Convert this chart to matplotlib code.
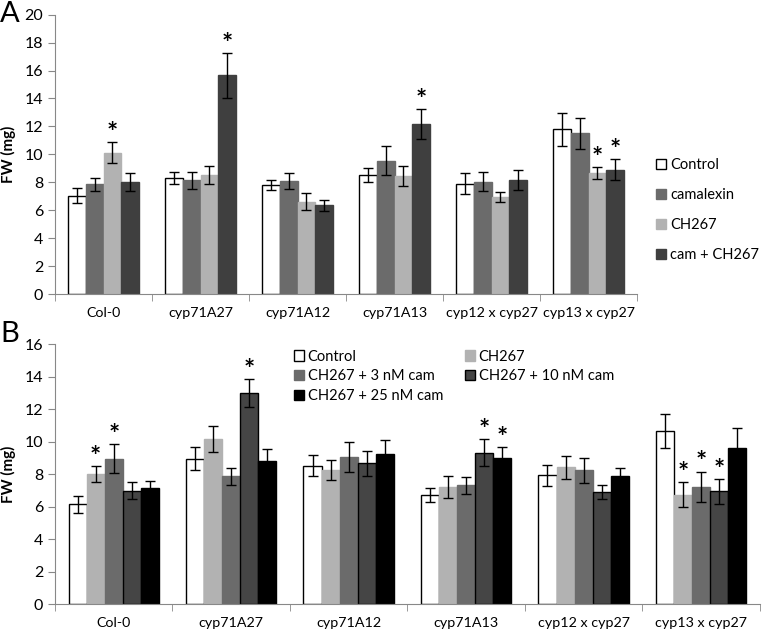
import numpy as np
import matplotlib
matplotlib.use("Agg")
import matplotlib.pyplot as plt

plt.rcParams['font.family'] = ['Lato', 'DejaVu Sans']

genotypes = ["Col-0", "cyp71A27", "cyp71A12", "cyp71A13", "cyp12 x cyp27", "cyp13 x cyp27"]

# panel A
a_names = ["Control", "camalexin", "CH267", "cam + CH267"]
a_vals = [
    [7.05, 8.3, 7.8, 8.5, 7.88, 11.8],
    [7.85, 8.15, 8.1, 9.55, 8.04, 11.5],
    [10.1, 8.55, 6.6, 8.47, 6.95, 8.66],
    [8.0, 15.65, 6.35, 12.15, 8.14, 8.9],
]
a_errs = [
    [0.55, 0.42, 0.35, 0.5, 0.75, 1.19],
    [0.45, 0.6, 0.55, 1.02, 0.7, 1.1],
    [0.75, 0.65, 0.6, 0.73, 0.38, 0.42],
    [0.65, 1.62, 0.4, 1.08, 0.72, 0.77],
]
a_sig = [
    [0, 0, 0, 0, 0, 0],
    [0, 0, 0, 0, 0, 0],
    [1, 0, 0, 0, 0, 1],
    [0, 1, 0, 1, 0, 1],
]

# panel B
b_names = ["Control", "CH267", "CH267 + 3 nM cam", "CH267 + 10 nM cam", "CH267 + 25 nM cam"]
b_vals = [
    [6.13, 8.96, 8.51, 6.71, 7.94, 10.65],
    [8.0, 10.17, 8.25, 7.22, 8.43, 6.73],
    [8.96, 7.88, 9.07, 7.32, 8.23, 7.22],
    [6.97, 13.0, 8.66, 9.33, 6.91, 6.93],
    [7.14, 8.82, 9.21, 8.98, 7.9, 9.62],
]
b_errs = [
    [0.53, 0.72, 0.65, 0.43, 0.65, 1.05],
    [0.48, 0.78, 0.64, 0.68, 0.71, 0.78],
    [0.88, 0.52, 0.91, 0.53, 0.79, 0.93],
    [0.52, 0.84, 0.77, 0.83, 0.42, 0.76],
    [0.45, 0.72, 0.89, 0.68, 0.48, 1.2],
]
b_sig = [
    [0, 0, 0, 0, 0, 0],
    [1, 0, 0, 0, 0, 1],
    [1, 0, 0, 0, 0, 1],
    [0, 1, 0, 1, 0, 1],
    [0, 0, 0, 1, 0, 0],
]

a_colors = ["white", "#6b6b6b", "#b2b2b2", "#3f3f3f"]
a_edges = ["black", "#6b6b6b", "#b2b2b2", "#3f3f3f"]
b_colors = ["white", "#b2b2b2", "#6b6b6b", "#454545", "black"]
b_edges = ["black", "#b2b2b2", "#6b6b6b", "black", "black"]


def panel(ax, vals, errs, sig, names, colors, edges, width, ymax, step):
    x = np.arange(len(genotypes))
    n = len(vals)
    handles = []
    for i in range(n):
        pos = x + (i - (n - 1) / 2) * width
        h = ax.bar(pos, vals[i], width, yerr=errs[i], color=colors[i],
                   edgecolor=edges[i], linewidth=1.0, label=names[i],
                   error_kw=dict(ecolor="black", elinewidth=1.0, capsize=3.5, capthick=1.0))
        handles.append(h)
        for j in range(len(genotypes)):
            if sig[i][j]:
                ax.annotate("*", (pos[j], vals[i][j] + errs[i][j]), xytext=(0, -2),
                            textcoords="offset points", ha="center", va="bottom",
                            fontsize=19, fontweight="bold")
    ax.set_xlim(-0.5, len(genotypes) - 0.5)
    ax.set_ylim(0, ymax)
    ax.set_yticks(np.arange(0, ymax + 0.1, step))
    ax.set_xticks(x)
    ax.set_xticklabels(genotypes)
    ax.set_xticks(np.arange(-0.5, len(genotypes)), minor=True)
    ax.tick_params(axis="x", which="major", length=0, pad=9, labelsize=10.3)
    ax.tick_params(axis="x", which="minor", length=5, color="#888888", direction="out")
    ax.tick_params(axis="y", length=5, color="#888888", labelsize=11.5)
    for s in ["top", "right"]:
        ax.spines[s].set_visible(False)
    for s in ["left", "bottom"]:
        ax.spines[s].set_color("#888888")
    ax.set_ylabel("FW (mg)", fontsize=11, fontweight="bold", labelpad=6)
    return handles


fig = plt.figure(figsize=(7.62, 6.32), dpi=100)
axA = fig.add_axes([0.0722, 0.5348, 0.764, 0.442])
axB = fig.add_axes([0.0722, 0.0443, 0.925, 0.411])

hA = panel(axA, a_vals, a_errs, a_sig, a_names, a_colors, a_edges, 0.182, 20, 2)
hB = panel(axB, b_vals, b_errs, b_sig, b_names, b_colors, b_edges, 0.154, 16, 2)

axA.legend(handles=hA, loc="center left", bbox_to_anchor=(1.01, 0.30), frameon=False,
           fontsize=10.5, handlelength=0.7, handleheight=0.7, handletextpad=0.25,
           labelspacing=1.1)
order = [0, 2, 4, 1, 3]
axB.legend(handles=[hB[k] for k in order], ncol=2, loc="upper left",
           bbox_to_anchor=(0.32, 1.03), frameon=False, fontsize=10.5,
           handlelength=0.7, handleheight=0.7, handletextpad=0.25,
           labelspacing=0.4, columnspacing=1.5)

fig.text(0.0, 0.998, "A", fontsize=21, va="top", ha="left")
fig.text(0.0, 0.492, "B", fontsize=21, va="top", ha="left")

fig.savefig("out.png", dpi=100)
